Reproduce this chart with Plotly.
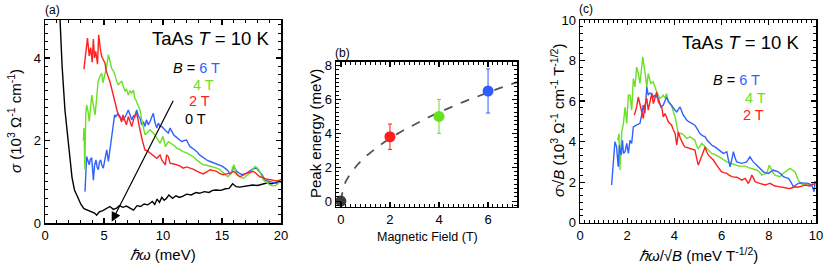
import plotly.graph_objects as go

# ---------------- Panel (a): sigma vs hbar*omega ----------------
a0_x = [1.27, 1.45, 1.69, 1.82, 1.95, 2.1, 2.29, 2.5, 2.8, 3.05, 3.3, 3.7, 4.0, 4.2, 4.38, 4.6, 4.9, 5.2, 5.5, 5.8, 6.07, 6.3, 6.6, 6.9, 7.2, 7.5, 7.8, 8.1, 8.4, 8.7, 8.9, 9.1, 9.3, 9.5, 9.7, 9.9, 10.1, 10.3, 10.5, 10.8, 11.1, 11.4, 11.7, 12.0, 12.4, 12.8, 13.1, 13.5, 13.9, 14.2, 14.5, 14.9, 15.3, 15.6, 15.9, 16.2, 16.5, 16.9, 17.3, 17.6, 18.0, 18.4, 18.8, 19.2, 19.5, 19.8, 20.0]
a0_y = [4.95, 3.8, 2.74, 2.35, 2.0, 1.55, 1.1, 0.8, 0.6, 0.45, 0.35, 0.3, 0.28, 0.24, 0.19, 0.27, 0.3, 0.35, 0.4, 0.33, 0.36, 0.42, 0.38, 0.41, 0.36, 0.31, 0.42, 0.4, 0.46, 0.44, 0.48, 0.52, 0.45, 0.58, 0.5, 0.62, 0.55, 0.6, 0.68, 0.6, 0.66, 0.62, 0.65, 0.7, 0.68, 0.74, 0.72, 0.76, 0.74, 0.79, 0.8, 0.79, 0.83, 0.84, 0.95, 0.88, 0.87, 0.89, 0.9, 0.92, 0.91, 0.94, 0.97, 0.95, 0.98, 1.0, 1.0]

a2_x = [3.3, 3.45, 3.6, 3.75, 3.87, 4.0, 4.1, 4.2, 4.3, 4.45, 4.55, 4.7, 4.8, 4.95, 5.08, 5.18, 5.28, 5.4, 5.5, 5.65, 5.8, 5.95, 6.07, 6.2, 6.36, 6.5, 6.6, 6.75, 6.9, 7.06, 7.2, 7.35, 7.5, 7.6, 7.77, 7.9, 8.05, 8.25, 8.47, 8.7, 8.9, 9.1, 9.3, 9.47, 9.75, 9.9, 10.2, 10.3, 10.45, 10.6, 10.9, 11.2, 11.5, 11.7, 12.0, 12.3, 12.6, 12.9, 13.2, 13.4, 13.7, 14.0, 14.3, 14.55, 14.8, 15.1, 15.4, 15.7, 16.0, 16.25, 16.5, 16.8, 17.1, 17.4, 17.65, 17.9, 18.2, 18.5, 18.8, 19.1, 19.35, 19.6, 19.9, 20.0]
a2_y = [3.73, 4.1, 4.48, 4.05, 4.25, 3.9, 4.46, 4.0, 4.16, 3.85, 4.56, 4.2, 4.04, 3.95, 3.88, 3.7, 3.59, 3.5, 3.43, 3.25, 3.07, 2.9, 2.74, 2.62, 2.55, 2.45, 2.62, 2.5, 2.38, 2.58, 2.45, 2.34, 2.5, 2.58, 2.66, 2.45, 2.26, 2.0, 1.77, 1.74, 1.7, 1.66, 1.61, 1.57, 1.65, 1.53, 1.41, 1.65, 1.61, 1.45, 1.43, 1.41, 1.37, 1.33, 1.36, 1.33, 1.3, 1.25, 1.22, 1.19, 1.24, 1.29, 1.27, 1.25, 1.2, 1.17, 1.19, 1.21, 1.25, 1.18, 1.12, 1.16, 1.21, 1.23, 1.25, 1.2, 1.12, 1.1, 1.06, 1.05, 1.03, 1.02, 1.04, 1.06]

a4_x = [3.25, 3.3, 3.38, 3.45, 3.53, 3.65, 3.75, 3.85, 3.96, 4.1, 4.24, 4.37, 4.5, 4.65, 4.8, 4.9, 5.0, 5.2, 5.37, 5.5, 5.65, 5.8, 5.93, 6.05, 6.2, 6.35, 6.5, 6.65, 6.78, 6.9, 7.06, 7.2, 7.35, 7.5, 7.6, 7.75, 7.9, 8.05, 8.2, 8.35, 8.47, 8.7, 8.9, 9.1, 9.3, 9.47, 9.75, 10.0, 10.2, 10.45, 10.7, 10.95, 11.2, 11.45, 11.7, 12.0, 12.3, 12.6, 12.85, 13.1, 13.4, 13.7, 14.0, 14.3, 14.55, 14.8, 15.1, 15.3, 15.5, 15.75, 16.0, 16.25, 16.5, 16.8, 17.1, 17.4, 17.6, 17.8, 18.0, 18.2, 18.5, 18.8, 19.07, 19.3, 19.5, 19.7, 19.9, 20.0]
a4_y = [2.0, 2.3, 1.3, 2.6, 2.86, 2.7, 2.46, 2.8, 3.1, 2.85, 2.62, 3.0, 3.43, 3.55, 3.63, 3.4, 3.51, 3.75, 4.08, 3.9, 3.75, 3.68, 3.59, 3.45, 3.35, 3.4, 3.43, 3.3, 3.19, 3.25, 3.1, 3.2, 3.15, 3.22, 3.03, 2.95, 2.86, 2.74, 2.5, 2.3, 2.14, 2.2, 2.26, 2.2, 2.14, 2.06, 1.93, 2.1, 1.85, 1.97, 1.93, 1.88, 1.81, 1.78, 1.73, 1.7, 1.65, 1.6, 1.53, 1.48, 1.41, 1.4, 1.38, 1.36, 1.33, 1.3, 1.22, 1.18, 1.12, 1.2, 1.41, 1.17, 1.12, 1.08, 1.15, 1.21, 1.3, 1.37, 1.33, 1.25, 1.04, 0.97, 0.92, 0.9, 0.9, 0.94, 1.0, 1.02]

a6_x = [3.39, 3.45, 3.53, 3.65, 3.75, 3.85, 3.96, 4.1, 4.2, 4.32, 4.42, 4.52, 4.62, 4.72, 4.82, 4.94, 5.08, 5.23, 5.37, 5.47, 5.57, 5.68, 5.8, 5.9, 6.0, 6.2, 6.36, 6.5, 6.64, 6.85, 7.06, 7.2, 7.35, 7.5, 7.6, 7.77, 7.9, 8.05, 8.2, 8.35, 8.47, 8.6, 8.75, 8.9, 9.05, 9.18, 9.3, 9.47, 9.6, 9.75, 9.9, 10.0, 10.15, 10.3, 10.45, 10.6, 10.75, 10.9, 11.05, 11.2, 11.4, 11.6, 11.8, 12.0, 12.15, 12.3, 12.5, 12.7, 12.9, 13.1, 13.35, 13.6, 13.8, 14.0, 14.2, 14.4, 14.6, 14.8, 15.0, 15.25, 15.5, 15.7, 15.85, 16.0, 16.25, 16.5, 16.7, 16.9, 17.1, 17.3, 17.5, 17.7, 17.9, 18.15, 18.4, 18.6, 18.85, 19.07, 19.3, 19.6, 19.8, 20.0]
a6_y = [0.76, 1.2, 1.61, 1.5, 1.41, 1.55, 1.57, 1.04, 1.4, 1.53, 1.35, 1.29, 1.48, 1.53, 1.4, 1.33, 1.6, 1.77, 1.49, 1.7, 1.93, 2.2, 2.5, 2.62, 2.58, 2.65, 2.58, 2.52, 2.5, 2.6, 2.74, 2.62, 2.5, 2.6, 2.58, 2.74, 2.6, 2.54, 2.38, 2.45, 2.34, 2.5, 2.38, 2.46, 2.55, 2.66, 2.46, 2.3, 2.42, 2.34, 2.34, 2.3, 2.26, 2.22, 2.18, 2.3, 2.2, 2.14, 2.1, 2.06, 2.02, 1.97, 2.0, 2.01, 1.92, 1.85, 1.81, 1.77, 1.72, 1.65, 1.6, 1.53, 1.51, 1.49, 1.47, 1.45, 1.43, 1.41, 1.38, 1.33, 1.27, 1.17, 1.25, 1.37, 1.25, 1.2, 1.17, 1.19, 1.21, 1.25, 1.29, 1.32, 1.33, 1.25, 1.17, 1.04, 1.02, 1.0, 0.98, 0.96, 0.98, 1.0]

# ---------------- Panel (b): peak energy vs field ----------------
b_field = [0, 2, 4, 6]
b_peak = [0.0, 3.8, 5.0, 6.5]
b_err_plus = [0.0, 0.75, 1.0, 1.3]
b_err_minus = [0.0, 0.75, 1.0, 1.3]
b_colors = ["#3a3a3a", "#ff1f1f", "#66e01f", "#2f5cff"]
fit_field = [0, 0.05, 0.1, 0.2, 0.4, 0.7, 1.0, 1.5, 2.0, 2.5, 3.0, 3.5, 4.0, 4.5, 5.0, 5.5, 6.0, 6.5, 7.18]
fit_peak = [0.0, 0.59, 0.83, 1.17, 1.66, 2.19, 2.62, 3.21, 3.71, 4.14, 4.54, 4.9, 5.24, 5.56, 5.86, 6.14, 6.42, 6.68, 7.02]

# ---------------- Panel (c): scaled sigma vs scaled energy ----------------
c2_x = [2.3, 2.4, 2.47, 2.54, 2.61, 2.68, 2.75, 2.83, 2.89, 2.96, 3.04, 3.11, 3.18, 3.25, 3.32, 3.39, 3.46, 3.53, 3.6, 3.67, 3.74, 3.81, 3.88, 3.95, 4.03, 4.1, 4.17, 4.24, 4.31, 4.38, 4.45, 4.55, 4.66, 4.76, 4.87, 4.94, 5.01, 5.08, 5.16, 5.23, 5.3, 5.37, 5.44, 5.55, 5.65, 5.79, 5.9, 6.0, 6.1, 6.22, 6.32, 6.43, 6.54, 6.64, 6.75, 6.85, 7.0, 7.13, 7.22, 7.28, 7.35, 7.42, 7.52, 7.63, 7.74, 7.84, 7.95, 8.05, 8.15, 8.26, 8.37, 8.47, 8.58, 8.69, 8.8, 8.9, 9.0, 9.11, 9.22, 9.32, 9.43, 9.53, 9.64, 9.75, 9.86, 9.96, 10.0]
c2_y = [5.3, 5.71, 6.2, 5.8, 5.5, 5.14, 5.8, 6.13, 5.55, 5.9, 6.37, 5.88, 6.13, 6.45, 5.96, 5.85, 5.71, 5.22, 5.39, 5.2, 4.98, 4.9, 4.81, 4.6, 4.4, 3.83, 4.48, 4.2, 3.99, 3.85, 3.74, 3.7, 3.66, 3.62, 3.58, 3.2, 2.84, 3.05, 3.33, 3.55, 3.74, 3.5, 3.33, 3.2, 3.09, 2.84, 2.65, 2.51, 2.47, 2.43, 2.35, 2.27, 2.25, 2.24, 2.18, 2.1, 2.19, 1.94, 2.15, 2.35, 2.2, 2.02, 1.98, 1.94, 1.9, 1.86, 1.9, 1.94, 1.88, 1.81, 1.79, 1.77, 1.73, 1.69, 1.7, 1.69, 1.72, 1.77, 1.75, 1.77, 1.82, 1.86, 1.83, 1.81, 1.88, 1.94, 1.96]

c4_x = [1.6, 1.65, 1.69, 1.73, 1.77, 1.84, 1.91, 1.98, 2.05, 2.12, 2.19, 2.26, 2.33, 2.4, 2.47, 2.54, 2.6, 2.66, 2.75, 2.83, 2.89, 3.0, 3.1, 3.17, 3.25, 3.32, 3.39, 3.46, 3.53, 3.6, 3.67, 3.74, 3.81, 3.88, 3.95, 4.03, 4.1, 4.17, 4.24, 4.31, 4.41, 4.52, 4.59, 4.66, 4.77, 4.87, 4.94, 5.01, 5.08, 5.16, 5.26, 5.37, 5.47, 5.58, 5.69, 5.79, 5.9, 6.0, 6.11, 6.22, 6.32, 6.43, 6.57, 6.71, 6.85, 7.0, 7.14, 7.28, 7.38, 7.49, 7.6, 7.7, 7.8, 7.91, 8.02, 8.12, 8.19, 8.26, 8.37, 8.47, 8.58, 8.69, 8.8, 8.9, 9.0, 9.11, 9.18, 9.25, 9.35, 9.46, 9.6, 9.75, 9.86, 9.96, 10.0]
c4_y = [4.07, 4.4, 2.6, 3.6, 4.48, 4.9, 5.71, 4.9, 6.29, 6.29, 5.55, 7.11, 6.7, 7.68, 7.36, 6.87, 7.5, 8.18, 7.44, 6.7, 7.36, 6.87, 6.95, 6.7, 6.45, 6.3, 6.13, 6.2, 6.29, 6.15, 6.37, 5.96, 5.9, 5.8, 5.5, 5.22, 4.8, 4.32, 4.4, 4.4, 4.3, 4.16, 4.2, 4.24, 4.15, 4.07, 3.8, 3.66, 3.75, 3.91, 3.8, 3.66, 3.55, 3.42, 3.38, 3.33, 3.25, 3.17, 3.08, 3.0, 2.96, 2.93, 2.86, 2.79, 2.8, 2.79, 2.72, 2.68, 2.64, 2.6, 2.5, 2.35, 2.4, 2.43, 2.84, 2.6, 2.45, 2.35, 2.3, 2.27, 2.4, 2.51, 2.6, 2.68, 2.6, 2.51, 2.3, 2.1, 1.95, 1.86, 1.86, 1.86, 1.92, 2.02, 2.0]

c6_x = [1.34, 1.37, 1.42, 1.48, 1.55, 1.62, 1.67, 1.74, 1.8, 1.84, 1.91, 1.98, 2.05, 2.12, 2.19, 2.26, 2.33, 2.4, 2.47, 2.54, 2.61, 2.68, 2.75, 2.83, 2.89, 2.96, 3.04, 3.11, 3.18, 3.25, 3.32, 3.43, 3.53, 3.6, 3.67, 3.74, 3.81, 3.88, 3.95, 4.03, 4.1, 4.17, 4.24, 4.31, 4.38, 4.45, 4.52, 4.59, 4.66, 4.76, 4.87, 4.98, 5.08, 5.19, 5.3, 5.4, 5.5, 5.61, 5.72, 5.82, 5.93, 6.0, 6.07, 6.15, 6.22, 6.29, 6.36, 6.43, 6.5, 6.57, 6.64, 6.75, 6.85, 6.96, 7.06, 7.13, 7.2, 7.27, 7.34, 7.45, 7.55, 7.66, 7.77, 7.88, 7.98, 8.09, 8.19, 8.3, 8.4, 8.51, 8.62, 8.72, 8.83, 8.94, 9.04, 9.15, 9.25, 9.35, 9.46, 9.57, 9.67, 9.75, 9.82, 9.87, 9.92, 9.96, 10.0]
c6_y = [1.86, 2.27, 3.2, 3.99, 3.74, 2.76, 3.83, 3.33, 4.07, 3.42, 3.5, 3.91, 3.42, 4.07, 3.91, 4.73, 4.78, 4.81, 4.85, 4.9, 5.3, 5.8, 5.39, 6.7, 6.29, 6.4, 6.37, 6.2, 6.29, 6.2, 6.13, 5.71, 5.8, 6.0, 6.2, 6.0, 5.88, 5.75, 5.63, 5.55, 5.47, 5.6, 5.71, 5.5, 5.3, 5.2, 5.06, 5.0, 4.95, 4.85, 4.81, 4.6, 4.4, 4.3, 4.24, 4.05, 3.91, 3.8, 3.74, 3.65, 3.58, 3.5, 3.42, 3.46, 3.5, 3.1, 2.76, 3.1, 3.5, 3.2, 3.0, 2.96, 2.93, 2.96, 3.0, 3.12, 3.25, 3.12, 3.0, 2.88, 2.76, 2.62, 2.51, 2.46, 2.43, 2.52, 2.6, 2.55, 2.51, 2.4, 2.27, 2.22, 2.19, 2.0, 1.77, 1.86, 1.94, 1.96, 1.97, 1.95, 1.94, 1.9, 1.86, 1.7, 1.53, 2.02, 2.0]

RED = "#ff2020"
GREEN = "#6ae024"
BLUE = "#2f62ff"
BLACK = "#000000"
FONT = "Liberation Sans, Arial, sans-serif"

fig = go.Figure()

line_w = 1.4
fig.add_trace(go.Scatter(x=a0_x, y=a0_y, mode="lines", line=dict(color=BLACK, width=line_w), xaxis="x", yaxis="y", showlegend=False))
fig.add_trace(go.Scatter(x=a6_x, y=a6_y, mode="lines", line=dict(color=BLUE, width=line_w), xaxis="x", yaxis="y", showlegend=False))
fig.add_trace(go.Scatter(x=a4_x, y=a4_y, mode="lines", line=dict(color=GREEN, width=line_w), xaxis="x", yaxis="y", showlegend=False))
fig.add_trace(go.Scatter(x=a2_x, y=a2_y, mode="lines", line=dict(color=RED, width=line_w), xaxis="x", yaxis="y", showlegend=False))

fig.add_trace(go.Scatter(x=fit_field, y=fit_peak, mode="lines", line=dict(color="#555555", width=1.8, dash="dash"), xaxis="x2", yaxis="y2", showlegend=False))
for i in range(len(b_field)):
    fig.add_trace(go.Scatter(
        x=[b_field[i]], y=[b_peak[i]], mode="markers",
        marker=dict(color=b_colors[i], size=11),
        error_y=dict(type="data", array=[b_err_plus[i]], arrayminus=[b_err_minus[i]],
                     color=b_colors[i], thickness=1, width=2, visible=b_err_plus[i] > 0),
        xaxis="x2", yaxis="y2", showlegend=False))

fig.add_trace(go.Scatter(x=c4_x, y=c4_y, mode="lines", line=dict(color=GREEN, width=line_w), xaxis="x3", yaxis="y3", showlegend=False))
fig.add_trace(go.Scatter(x=c6_x, y=c6_y, mode="lines", line=dict(color=BLUE, width=line_w), xaxis="x3", yaxis="y3", showlegend=False))
fig.add_trace(go.Scatter(x=c2_x, y=c2_y, mode="lines", line=dict(color=RED, width=line_w), xaxis="x3", yaxis="y3", showlegend=False))

W, H = 831, 270

def px_x(p):
    return p / W

def px_y(p):
    return 1 - p / H

def axis(domain, rng, dtick, minor_dtick, anchor, tick_size=13):
    return dict(
        domain=domain, range=rng, anchor=anchor, dtick=dtick, tick0=0,
        automargin=False,
        showline=True, linecolor="black", linewidth=1.5, mirror="allticks",
        ticks="inside", ticklen=5, tickwidth=1.2, tickcolor="black",
        minor=dict(ticks="inside", ticklen=3, tickwidth=1, tickcolor="black", dtick=minor_dtick, tick0=0),
        showgrid=False, zeroline=False,
        tickfont=dict(family=FONT, size=tick_size, color="black"),
    )

fig.update_layout(
    width=W, height=H,
    margin=dict(l=0, r=0, t=0, b=0, autoexpand=False),
    paper_bgcolor="white", plot_bgcolor="white",
    xaxis=axis([px_x(45), px_x(281)], [0, 20], 5, 1, "y"),
    yaxis=axis([px_y(223), px_y(20)], [0, 4.92], 2, 0.2, "x"),
    xaxis2=axis([px_x(336), px_x(517)], [-0.2, 7.18], 2, 0.2, "y2"),
    yaxis2=axis([px_y(206.7), px_y(61.7)], [-0.33, 8.23], 2, 0.25, "x2"),
    xaxis3=axis([px_x(580), px_x(816)], [0, 10], 2, 0.2, "y3"),
    yaxis3=axis([px_y(222.7), px_y(20)], [0, 10], 2, 1/3, "x3"),
    font=dict(family=FONT, color="black"),
)

annotations = []

def txt(x, y, text, size, xanchor="left", color="black", angle=0):
    annotations.append(dict(x=px_x(x), y=px_y(y), xref="paper", yref="paper", text=text,
                            showarrow=False, xanchor=xanchor, yanchor="middle", textangle=angle,
                            borderpad=0, font=dict(family=FONT, size=size, color=color)))

# axis titles
txt(163, 254, "<i>ℏω</i> (meV)", 15, "center")
txt(14, 121, "<i>σ</i> (10<sup>3</sup> Ω<sup>-1</sup> cm<sup>-1</sup>)", 15, "center", angle=-90)
txt(427, 237, "Magnetic Field (T)", 12.5, "center")
txt(316, 134, "Peak energy (meV)", 15, "center", angle=-90)
txt(698, 254, "<i>ℏω</i>/√<i>B</i> (meV T<sup>-1/2</sup>)", 15, "center")
txt(557, 121, "<i>σ</i>√<i>B</i> (10<sup>3</sup> Ω<sup>-1</sup> cm<sup>-1</sup> T<sup>-1/2</sup>)", 15, "center", angle=-90)

# panel labels
txt(44, 10, "(a)", 12)
txt(334, 53, "(b)", 12)
txt(578, 9, "(c)", 12)

# panel (a) texts
txt(151, 38.5, "TaAs <i>T</i> = 10 K", 18.5)
txt(172, 68, "<i>B</i> = <span style='color:%s'>6 T</span>" % BLUE, 14.5)
txt(192, 85, "4 T", 14.5, "left", GREEN)
txt(188, 101, "2 T", 14.5, "left", RED)
txt(184, 119, "0 T", 14.5, "left", BLACK)

# panel (c) texts
txt(681, 42, "TaAs <i>T</i> = 10 K", 18.5)
txt(712, 80, "<i>B</i> = <span style='color:%s'>6 T</span>" % BLUE, 14.5)
txt(744, 98, "4 T", 14.5, "left", GREEN)
txt(742, 115, "2 T", 14.5, "left", RED)

# arrow in panel (a)
annotations.append(dict(x=5.65, y=0.03, ax=10.93, ay=3.0, xref="x", yref="y", axref="x", ayref="y",
                        showarrow=True, arrowhead=2, arrowsize=1.6, arrowwidth=1.2, arrowcolor="black", text=""))

fig.update_layout(annotations=annotations)

# remove the default page margin so the 831x270 figure fills the window exactly
fig.write_html("out.html",
               config={"displayModeBar": False, "staticPlot": True},
               post_script="document.body.style.margin='0px';document.body.style.overflow='hidden';")
